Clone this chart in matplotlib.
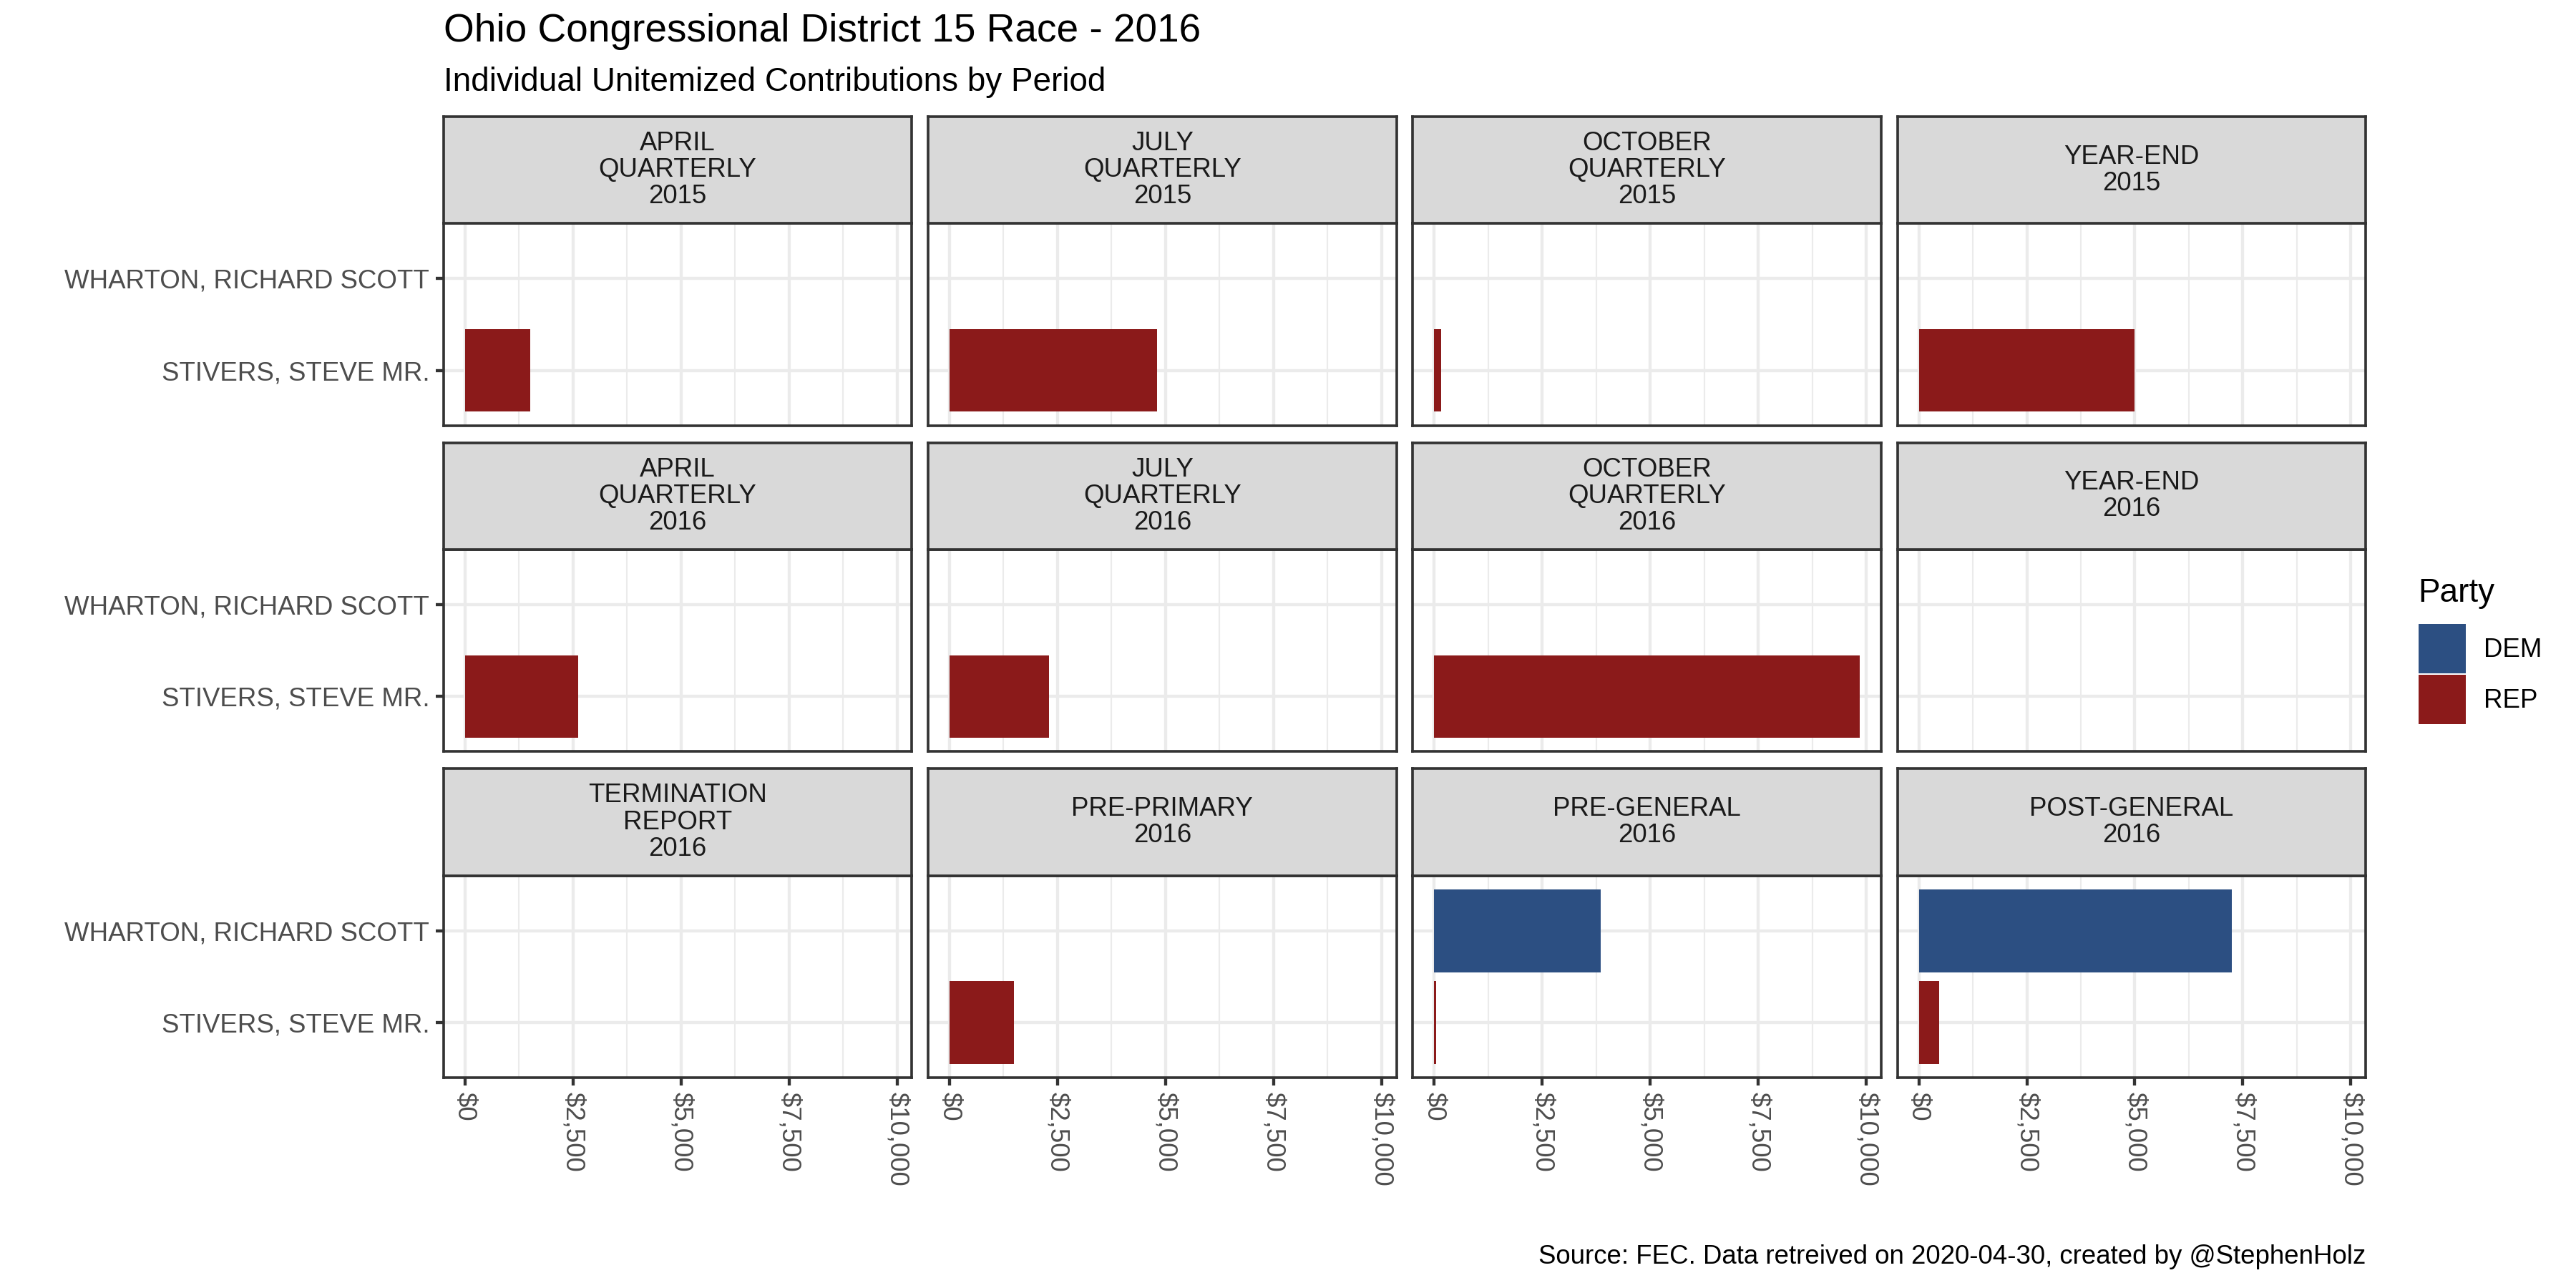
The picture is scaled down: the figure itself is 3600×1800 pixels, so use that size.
import numpy as np
import matplotlib.pyplot as plt
import matplotlib.ticker as mtick
from matplotlib.patches import Patch

# data
periods = [
    "APRIL\nQUARTERLY\n2015", "JULY\nQUARTERLY\n2015", "OCTOBER\nQUARTERLY\n2015", "YEAR-END\n2015",
    "APRIL\nQUARTERLY\n2016", "JULY\nQUARTERLY\n2016", "OCTOBER\nQUARTERLY\n2016", "YEAR-END\n2016",
    "TERMINATION\nREPORT\n2016", "PRE-PRIMARY\n2016", "PRE-GENERAL\n2016", "POST-GENERAL\n2016",
]
candidates = ["STIVERS, STEVE MR.", "WHARTON, RICHARD SCOTT"]
stivers = [1510, 4810, 160, 5000, 2620, 2310, 9850, 0, 0, 1490, 45, 475]
wharton = [0, 0, 0, 0, 0, 0, 0, 0, 0, 0, 3860, 7250]
x_breaks = [0, 2500, 5000, 7500, 10000]
x_minor = [1250, 3750, 6250, 8750]

REP = "#8B1A1A"
DEM = "#2C4F82"

plt.rcParams["font.family"] = ["Liberation Sans", "DejaVu Sans"]

W, H = 1568, 784   # layout measured on a 1568x784 view of the reference
fig = plt.figure(figsize=(15, 7.5), dpi=240, facecolor="white")


def fx(px):
    return px / W


def fy(py):
    return 1 - py / H


col_left = [270, 565, 860, 1155]
col_w = 285
row_top = [71, 269.5, 468]
strip_h = 65
panel_h = 123

xmax = max(stivers + wharton)
pad = 0.05 * xmax

for i, period in enumerate(periods):
    r, c = divmod(i, 4)
    top = row_top[r]

    # panel
    ax = fig.add_axes([fx(col_left[c]), fy(top + strip_h + panel_h), fx(col_w), panel_h / H])
    ax.barh([0, 1], [stivers[i], wharton[i]], height=0.9, color=[REP, DEM], linewidth=0, zorder=3)
    ax.set_xlim(-pad, xmax + pad)
    ax.set_ylim(-0.6, 1.6)
    ax.set_xticks(x_breaks)
    ax.set_xticks(x_minor, minor=True)
    ax.set_yticks([0, 1])
    ax.set_axisbelow(True)
    ax.grid(which="major", color="#EBEBEB", linewidth=1.3)
    ax.grid(which="minor", axis="x", color="#EBEBEB", linewidth=0.65)
    for sp in ax.spines.values():
        sp.set_color("#333333")
        sp.set_linewidth(1.1)
    ax.tick_params(which="minor", length=0)
    ax.tick_params(which="major", color="#333333", width=1.3, length=3.4,
                   labelcolor="#4D4D4D", labelsize=11, pad=2.5)

    if c == 0:
        ax.set_yticklabels(candidates)
    else:
        ax.tick_params(axis="y", left=False, labelleft=False)

    if r == 2:
        ax.xaxis.set_major_formatter(mtick.StrMethodFormatter("${x:,.0f}"))
        for lab in ax.get_xticklabels():
            lab.set_rotation(270)
            lab.set_ha("center")
            lab.set_va("top")
    else:
        ax.tick_params(axis="x", bottom=False, labelbottom=False)

    # facet strip
    sax = fig.add_axes([fx(col_left[c]), fy(top + strip_h), fx(col_w), strip_h / H])
    sax.set_facecolor("#D9D9D9")
    sax.set_xticks([])
    sax.set_yticks([])
    for sp in sax.spines.values():
        sp.set_color("#333333")
        sp.set_linewidth(1.1)
    sax.text(0.5, 0.5, period, ha="center", va="center", fontsize=11,
             color="#1A1A1A", linespacing=1.08, transform=sax.transAxes)

# titles
fig.text(fx(270), fy(19), "Ohio Congressional District 15 Race - 2016",
         fontsize=16.5, ha="left", va="center")
fig.text(fx(270), fy(50), "Individual Unitemized Contributions by Period",
         fontsize=13.75, ha="left", va="center")
fig.text(fx(1440), fy(765), "Source: FEC. Data retreived on 2020-04-30, created by @StephenHolz",
         fontsize=11, ha="right", va="center")

# legend
fig.text(fx(1472), fy(361), "Party", fontsize=13.75, ha="left", va="center")
handles = [Patch(facecolor=DEM, label="DEM"), Patch(facecolor=REP, label="REP")]
fig.legend(handles=handles, loc="upper left",
           bbox_to_anchor=(fx(1472), fy(380)), frameon=False,
           fontsize=11, handlelength=1.8, handleheight=2.52,
           labelspacing=0.05, handletextpad=0.7, borderpad=0, borderaxespad=0)

fig.savefig("out.png", dpi=240)
